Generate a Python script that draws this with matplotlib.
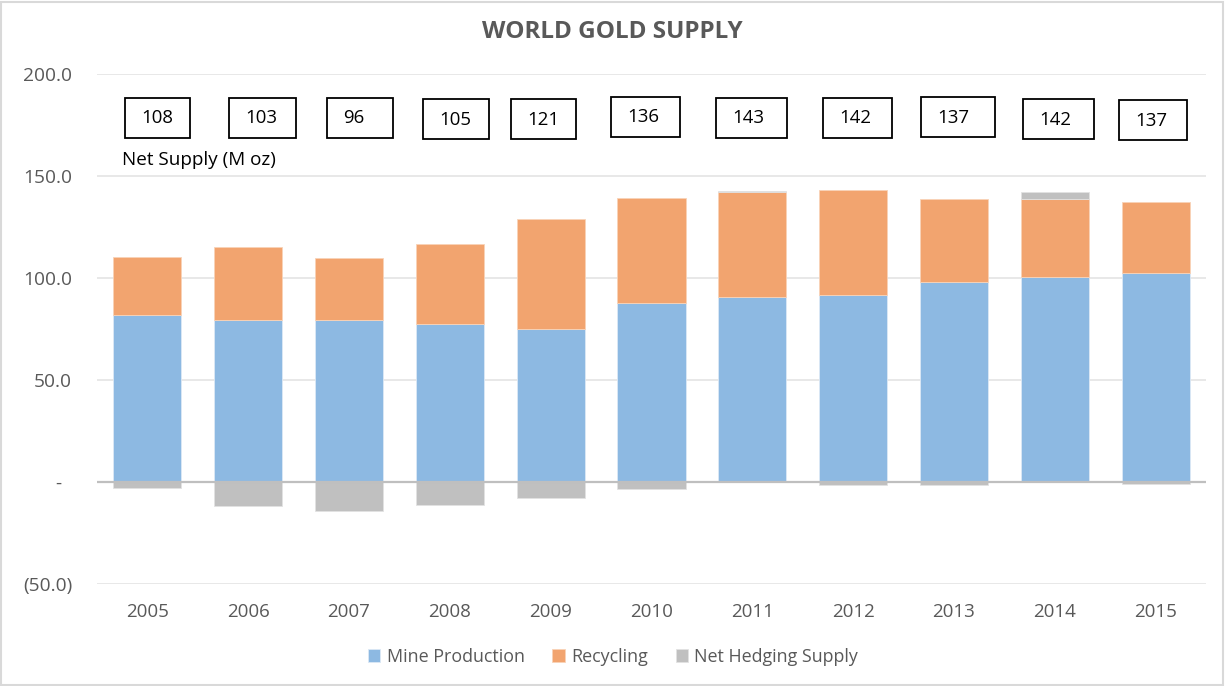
import matplotlib
matplotlib.use("Agg")
import matplotlib.pyplot as plt
from matplotlib.patches import Rectangle
import numpy as np

years = ["2005", "2006", "2007", "2008", "2009", "2010", "2011", "2012", "2013", "2014", "2015"]
mine = [82.0, 79.5, 79.5, 77.5, 75.0, 87.7, 90.7, 91.7, 98.0, 100.5, 102.5]
recycling = [28.4, 35.8, 30.4, 39.2, 53.9, 51.5, 51.5, 51.4, 40.7, 38.2, 34.8]
hedging = [-2.9, -11.8, -14.2, -11.3, -7.8, -3.4, 0.5, -1.5, -1.5, 3.4, -1.0]
net_supply = ["108", "103", "96", "105", "121", "136", "143", "142", "137", "142", "137"]
ytick_vals = [-50, 0, 50, 100, 150, 200]
ytick_labels = ["(50.0)", "-  ", "50.0", "100.0", "150.0", "200.0"]

# label box layout (positions only)
box_left = [-0.222, -0.19, -0.221, -0.266, -0.396, -0.404, -0.362, -0.30, -0.328, -0.313, -0.361]
box_w = [0.645, 0.665, 0.655, 0.655, 0.645, 0.685, 0.704, 0.685, 0.734, 0.704, 0.675]
box_bot = [168.8, 168.8, 168.8, 168.1, 168.1, 169.3, 168.8, 168.8, 169.0, 168.1, 167.6]
box_h = 19.6

plt.rcParams['font.family'] = ['Open Sans', 'DejaVu Sans']

c_mine = "#8DB9E2"
c_rec = "#F2A46F"
c_hedge = "#C0C0C0"
txt = "#595959"

fig = plt.figure(figsize=(12.25, 6.86), dpi=100)
ax = fig.add_axes([97/1225, 1 - 584/686, (1206-97)/1225, (584-74)/686])

x = np.arange(len(years))
mine_a = np.array(mine)
rec_a = np.array(recycling)
h_a = np.array(hedging)
w = 0.675
ax.bar(x, mine_a, w, color=c_mine, edgecolor="#DCE9F5", linewidth=0.6, label="Mine Production", zorder=3)
ax.bar(x, rec_a, w, bottom=mine_a, color=c_rec, edgecolor="#F8D3B8", linewidth=0.6, label="Recycling", zorder=3)
hb = np.where(h_a >= 0, mine_a + rec_a, 0)
ax.bar(x, h_a, w, bottom=hb, color=c_hedge, edgecolor="#E2E2E2", linewidth=0.6, label="Net Hedging Supply", zorder=3)

ax.set_xlim(-0.5, len(years) - 0.5)
ax.set_ylim(-50, 200)
ax.set_yticks(ytick_vals)
ax.set_yticklabels(ytick_labels)
ax.set_xticks(x)
ax.set_xticklabels(years)
ax.tick_params(axis='both', length=0, colors=txt)
ax.tick_params(axis='y', pad=18, labelsize=13.8)
ax.tick_params(axis='x', pad=14, labelsize=13.5)
for s in ax.spines.values():
    s.set_visible(False)
for v in ytick_vals:
    if v != 0:
        ax.axhline(v, color="#E4E4E4", linewidth=1.2, zorder=1)
ax.axhline(0, color="#BFBFBF", linewidth=1.6, zorder=4)

for i, lab in enumerate(net_supply):
    left = x[i] + box_left[i]
    ax.add_patch(Rectangle((left, box_bot[i]), box_w[i], box_h, facecolor="white",
                           edgecolor="black", linewidth=1.3, zorder=5))
    ax.text(left + 0.159, box_bot[i] + box_h / 2 - 0.3, lab, ha="left", va="center",
            fontsize=13.4, color="black", zorder=6)

fig.text(122/1225, 1 - 160/686, "Net Supply (M oz)", fontsize=13.6,
         color="black", ha="left", va="center")

fig.text(0.5, 1 - 32/686, "WORLD GOLD SUPPLY", ha="center", va="center", fontsize=17.5,
         fontweight="bold", color=txt)

leg = fig.legend(loc="center", bbox_to_anchor=(613/1225, 1 - 657/686), ncol=3, frameon=False,
                 fontsize=12.9, handlelength=0.7, handleheight=0.7, columnspacing=1.55,
                 handletextpad=0.35)
for t in leg.get_texts():
    t.set_color(txt)

fig.patches.append(Rectangle((1/1225, 1/686), 1 - 3/1225, 1 - 3/686, transform=fig.transFigure,
                             fill=False, edgecolor="#D9D9D9", linewidth=1.5))

fig.savefig("out.png", dpi=100, facecolor="white")
